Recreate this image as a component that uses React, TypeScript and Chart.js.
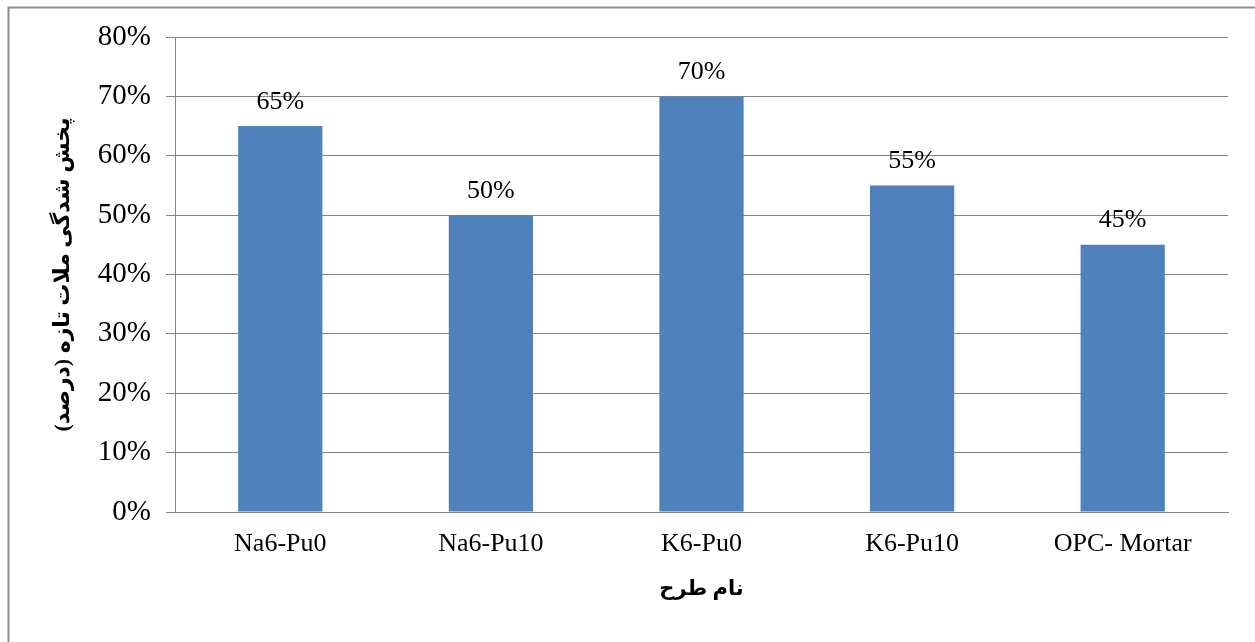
import React, { useEffect, useRef } from "react";
import { Chart, registerables } from "chart.js";

Chart.register(...registerables);

const categories = ["Na6-Pu0", "Na6-Pu10", "K6-Pu0", "K6-Pu10", "OPC- Mortar"];
const values = [65, 50, 70, 55, 45];
const yTitle = "پخش شدگی ملات تازه (درصد)";
const xTitle = "نام طرح";

const SERIF = "'Times New Roman', 'Liberation Serif', serif";
const TITLE_FONT = "'Liberation Serif', 'DejaVu Sans', sans-serif";
const GRID = "#868686";

const frame = {
  id: "frame",
  beforeDraw(chart: any) {
    const { ctx } = chart;
    ctx.save();
    ctx.fillStyle = "#ffffff";
    ctx.fillRect(0, 0, chart.width, chart.height);
    ctx.strokeStyle = "#8e8e8e";
    ctx.lineWidth = 2;
    ctx.beginPath();
    ctx.moveTo(8.5, chart.height);
    ctx.lineTo(8.5, 7.5);
    ctx.lineTo(chart.width, 7.5);
    ctx.stroke();
    ctx.restore();
  },
};

const valueLabels = {
  id: "valueLabels",
  afterDatasetsDraw(chart: any) {
    const { ctx } = chart;
    const meta = chart.getDatasetMeta(0);
    ctx.save();
    ctx.fillStyle = "#000";
    ctx.font = `26px ${SERIF}`;
    ctx.textAlign = "center";
    ctx.textBaseline = "alphabetic";
    meta.data.forEach((bar: any, i: number) => {
      ctx.fillText(values[i] + "%", bar.x, bar.y - 17.5);
    });
    ctx.restore();
  },
};

export default function App() {
  const ref = useRef<HTMLCanvasElement | null>(null);
  useEffect(() => {
    if (!ref.current) return;
    const chart = new Chart(ref.current, {
      type: "bar",
      data: {
        labels: categories,
        datasets: [
          {
            data: values,
            backgroundColor: "#4F81BD",
            borderWidth: 0,
            categoryPercentage: 1,
            barPercentage: 0.4,
          },
        ],
      },
      plugins: [frame, valueLabels],
      options: {
        responsive: false,
        animation: false,
        layout: { padding: { left: 0, top: 37, right: 27, bottom: 0 } },
        plugins: {
          legend: { display: false },
          tooltip: { enabled: false },
        },
        scales: {
          x: {
            grid: { display: false, drawTicks: false },
            border: { display: true, color: GRID, width: 1 },
            ticks: {
              color: "#000",
              font: { family: SERIF, size: 26 },
              padding: 17,
              maxRotation: 0,
              autoSkip: false,
            },
            title: {
              display: true,
              text: xTitle,
              color: "#000",
              font: { family: TITLE_FONT, size: 21, weight: "bold" },
              padding: { top: 0, bottom: 40 },
            },
            afterFit(s: any) {
              s.height = 130;
            },
          },
          y: {
            min: 0,
            max: 80,
            ticks: {
              stepSize: 10,
              color: "#000",
              font: { family: SERIF, size: 29 },
              padding: 15,
              callback: (v: any) => v + "%",
            },
            grid: { color: GRID, lineWidth: 1, tickLength: 9, drawTicks: true },
            border: { display: true, color: GRID, width: 1 },
            title: {
              display: true,
              text: yTitle,
              color: "#000",
              font: { family: TITLE_FONT, size: 22, weight: "bold" },
              padding: { top: 50, bottom: 0 },
            },
            afterFit(s: any) {
              s.width = 175;
            },
          },
        },
      },
    });
    return () => chart.destroy();
  }, []);
  return (
    <div style={{ position: "absolute", left: 0, top: 0, width: 1255, height: 642 }}>
      <canvas ref={ref} width={1255} height={642} style={{ display: "block" }} />
    </div>
  );
}
